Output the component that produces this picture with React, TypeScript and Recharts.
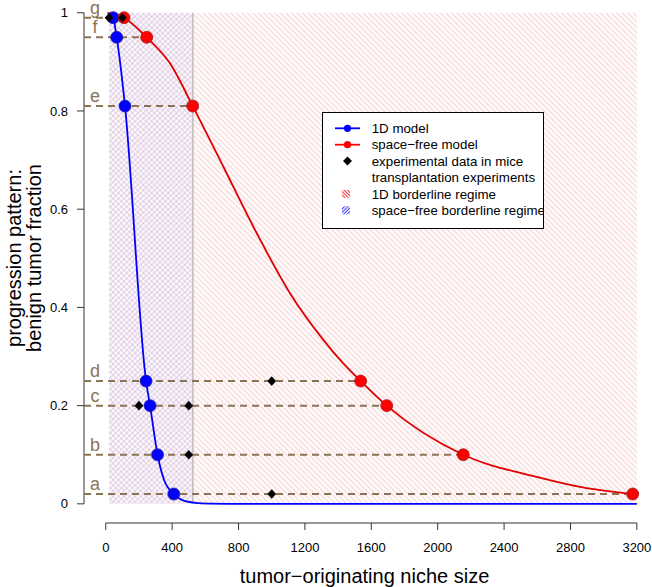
import {
  ComposedChart,
  Line,
  Scatter,
  XAxis,
  YAxis,
  ReferenceArea,
  ReferenceLine,
  Legend,
} from "recharts";

// axis ticks
const X_TICKS = [0, 400, 800, 1200, 1600, 2000, 2400, 2800, 3200];
const Y_TICKS = [0, 0.2, 0.4, 0.6, 0.8, 1];

// labelled levels a..g (benign tumor fraction)
const LEVEL_LABELS = ["a", "b", "c", "d", "e", "f", "g"];
const LEVEL_Y = [0.02, 0.1, 0.2, 0.25, 0.81, 0.95, 0.99];
const ONE_D_X = [410, 312, 267, 243, 116, 66, 45];
const SPACE_FREE_X = [3175, 2154, 1693, 1536, 524, 247, 110];

// experimental data in mice
const EXP_X = [1000, 500, 200, 500, 1000, 20, 100];
const EXP_Y = [0.02, 0.1, 0.2, 0.2, 0.25, 0.99, 0.99];

// model curves
const ONE_D_CURVE_X = [25, 45, 66, 116, 243, 267, 312, 350, 410, 458, 538, 620, 800, 3200];
const ONE_D_CURVE_Y = [1.0, 0.99, 0.95, 0.81, 0.25, 0.2, 0.1, 0.05, 0.02, 0.008, 0.002, 0.0005, 0, 0];
const SPACE_FREE_CURVE_X = [10, 110, 247, 387, 524, 708, 910, 1110, 1311, 1431, 1536, 1693, 2154, 2596, 2898, 3175];
const SPACE_FREE_CURVE_Y = [1.0, 0.99, 0.95, 0.897, 0.81, 0.687, 0.551, 0.429, 0.334, 0.286, 0.25, 0.2, 0.1, 0.055, 0.032, 0.02];

// borderline regimes [from, to]
const ONE_D_REGIME = [20, 3200];
const SPACE_FREE_REGIME = [20, 525];

const LEGEND_LINES = [
  "1D model",
  "space\u2212free model",
  "experimental data in mice",
  "transplantation experiments",
  "1D borderline regime",
  "space\u2212free borderline regime",
];

const X_MIN = -131;
const BROWN = "#8B7355";
const FONT = '"Liberation Sans", Arial, Helvetica, sans-serif';

function LegendBox() {
  const rows = [16.3, 32.7, 49.1, 65.5, 81.9, 98.3];
  return (
    <svg width={222} height={117} style={{ display: "block", fontFamily: FONT }}>
      <defs>
        <pattern id="legRed" width="2.4" height="2.4" patternUnits="userSpaceOnUse" patternTransform="rotate(-45)">
          <line x1="1.2" y1="0" x2="1.2" y2="2.4" stroke="#f03030" strokeWidth="1" />
        </pattern>
        <pattern id="legBlue" width="2.4" height="2.4" patternUnits="userSpaceOnUse" patternTransform="rotate(45)">
          <line x1="1.2" y1="0" x2="1.2" y2="2.4" stroke="#3030f0" strokeWidth="1" />
        </pattern>
      </defs>
      <rect x={0.5} y={0.5} width={221} height={116} fill="#fff" stroke="#000" />
      <line x1={13} x2={38} y1={rows[0]} y2={rows[0]} stroke="#0000ff" strokeWidth={1.8} />
      <circle cx={25.5} cy={rows[0]} r={3.6} fill="#0000ff" />
      <line x1={13} x2={38} y1={rows[1]} y2={rows[1]} stroke="#ff0000" strokeWidth={1.8} />
      <circle cx={25.5} cy={rows[1]} r={3.6} fill="#ff0000" />
      <polygon
        points={`25.5,${rows[2] - 4.5} 30,${rows[2]} 25.5,${rows[2] + 4.5} 21,${rows[2]}`}
        fill="#000"
      />
      <rect x={20} y={rows[4] - 4} width={8} height={8} fill="url(#legRed)" />
      <rect x={20} y={rows[5] - 4} width={8} height={8} fill="url(#legBlue)" />
      {LEGEND_LINES.map((t, i) => (
        <text key={t} x={49.7} y={rows[i] + 4.7} fontSize={13.3} fill="#000">
          {t}
        </text>
      ))}
    </svg>
  );
}

export default function App() {
  const oneDCurve = ONE_D_CURVE_X.map((x, i) => ({ x, y: ONE_D_CURVE_Y[i] }));
  const spaceFreeCurve = SPACE_FREE_CURVE_X.map((x, i) => ({ x, y: SPACE_FREE_CURVE_Y[i] }));
  const oneDPts = ONE_D_X.map((x, i) => ({ x, y: LEVEL_Y[i] }));
  const spaceFreePts = SPACE_FREE_X.map((x, i) => ({ x, y: LEVEL_Y[i] }));
  const expPts = EXP_X.map((x, i) => ({ x, y: EXP_Y[i] }));
  const letters = LEVEL_LABELS.map((label, i) => ({ x: X_MIN, y: LEVEL_Y[i], label }));

  return (
    <div style={{ position: "absolute", left: 0, top: 0, fontFamily: FONT }}>
      <ComposedChart width={652} height={587} margin={{ top: 0, right: 7, bottom: 0, left: 0 }}>
        <defs>
          <pattern id="hatchRed" width="3.9" height="3.9" patternUnits="userSpaceOnUse" patternTransform="rotate(-45)">
            <line x1="1.95" y1="0" x2="1.95" y2="3.9" stroke="#f5b3b3" strokeWidth="0.75" />
          </pattern>
          <pattern id="hatchBlue" width="3.9" height="3.9" patternUnits="userSpaceOnUse" patternTransform="rotate(45)">
            <line x1="1.95" y1="0" x2="1.95" y2="3.9" stroke="#b6b6f5" strokeWidth="0.75" />
          </pattern>
        </defs>
        <XAxis
          type="number"
          dataKey="x"
          domain={[X_MIN, 3249]}
          ticks={X_TICKS}
          interval={0}
          allowDataOverflow
          axisLine={false}
          tickLine={{ stroke: "#333" }}
          tickSize={7}
          tickMargin={13}
          tick={{ fill: "#000", fontSize: 13 }}
          height={64}
          label={{
            content: () => (
              <text x={364.5} y={583} textAnchor="middle" fontSize={20} fill="#000">
                tumor{"\u2212"}originating niche size
              </text>
            ),
          }}
        />
        <YAxis
          type="number"
          dataKey="y"
          domain={[-0.039, 1.026]}
          ticks={Y_TICKS}
          interval={0}
          allowDataOverflow
          axisLine={false}
          tickLine={{ stroke: "#333" }}
          tickSize={7}
          tickMargin={9}
          tick={{ fill: "#000", fontSize: 13 }}
          tickFormatter={(v: number) => String(v)}
          width={84}
          label={{
            content: () => (
              <g fontSize={20} fill="#000">
                <text transform="translate(21,258) rotate(-90)" textAnchor="middle">
                  progression pattern:
                </text>
                <text transform="translate(41,258) rotate(-90)" textAnchor="middle">
                  benign tumor fraction
                </text>
              </g>
            ),
          }}
        />
        <ReferenceArea
          x1={ONE_D_REGIME[0]}
          x2={ONE_D_REGIME[1]}
          y1={0}
          y2={1}
          fill="url(#hatchRed)"
          fillOpacity={1}
          stroke="none"
        />
        <ReferenceArea
          x1={SPACE_FREE_REGIME[0]}
          x2={SPACE_FREE_REGIME[1]}
          y1={0}
          y2={1}
          fill="url(#hatchBlue)"
          fillOpacity={1}
          stroke="none"
        />
        <ReferenceLine
          segment={[{ x: 0, y: -0.039 }, { x: 3200, y: -0.039 }]}
          stroke="#333"
          ifOverflow="visible"
        />
        <ReferenceLine
          segment={[{ x: X_MIN, y: 0 }, { x: X_MIN, y: 1 }]}
          stroke="#333"
          ifOverflow="visible"
        />
        <Line
          data={[{ x: SPACE_FREE_REGIME[1], y: 0 }, { x: SPACE_FREE_REGIME[1], y: 1 }]}
          dataKey="y"
          stroke="#bdbdbd"
          strokeWidth={1.5}
          dot={false}
          isAnimationActive={false}
        />
        {LEVEL_Y.map((y, i) => (
          <Line
            key={LEVEL_LABELS[i]}
            data={[{ x: X_MIN, y }, { x: SPACE_FREE_X[i], y }]}
            dataKey="y"
            stroke={BROWN}
            strokeWidth={2}
            strokeDasharray="7 5"
            dot={false}
            isAnimationActive={false}
          />
        ))}
        <Line
          data={oneDCurve}
          dataKey="y"
          type="monotone"
          stroke="#0000ff"
          strokeWidth={1.8}
          dot={false}
          isAnimationActive={false}
        />
        <Line
          data={spaceFreeCurve}
          dataKey="y"
          type="monotone"
          stroke="#e00000"
          strokeWidth={1.8}
          dot={false}
          isAnimationActive={false}
        />
        <Scatter
          data={oneDPts}
          isAnimationActive={false}
          shape={(p: any) => <circle cx={p.cx} cy={p.cy} r={6} fill="#0000ff" stroke="#2020a0" strokeWidth={0.8} />}
        />
        <Scatter
          data={spaceFreePts}
          isAnimationActive={false}
          shape={(p: any) => <circle cx={p.cx} cy={p.cy} r={6} fill="#ff0000" stroke="#a02020" strokeWidth={0.8} />}
        />
        <Scatter
          data={expPts}
          isAnimationActive={false}
          shape={(p: any) => (
            <polygon
              points={`${p.cx},${p.cy - 4.8} ${p.cx + 4.4},${p.cy} ${p.cx},${p.cy + 4.8} ${p.cx - 4.4},${p.cy}`}
              fill="#000"
            />
          )}
        />
        <Scatter
          data={letters}
          isAnimationActive={false}
          shape={(p: any) => (
            <text x={p.cx + 11} y={p.cy - 4} textAnchor="middle" fontSize={18} fill={BROWN}>
              {p.payload.label}
            </text>
          )}
        />
        <Legend
          layout="horizontal"
          verticalAlign="middle"
          align="center"
          wrapperStyle={{ left: 322, top: 112, width: 222, height: 117 }}
          content={() => <LegendBox />}
        />
      </ComposedChart>
    </div>
  );
}
